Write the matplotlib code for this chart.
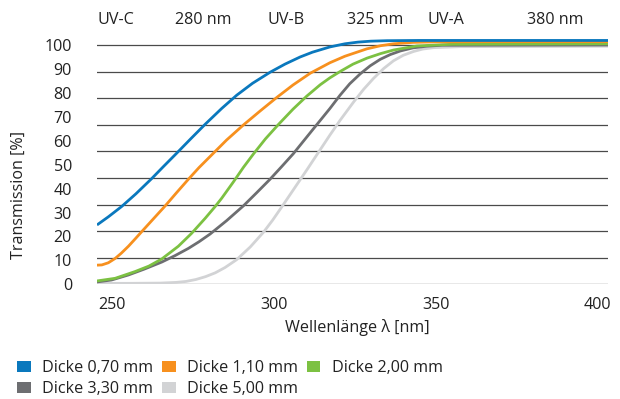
import matplotlib
matplotlib.use('Agg')
import matplotlib.pyplot as plt
from matplotlib.patches import Patch
from matplotlib.transforms import blended_transform_factory

plt.rcParams['font.family'] = ['Open Sans', 'DejaVu Sans']

wl_070 = [245.5, 249, 253.1, 257.5, 262.4, 266, 270.1, 274.5, 278.9, 284, 288.6, 293.5, 298.9,
          303.5, 308.2, 312, 317.4, 322, 326, 330, 335, 345, 360, 380, 403.2]
tr_070 = [24.8, 28.2, 32.5, 37.8, 44.2, 49.2, 54.8, 60.9, 66.9, 73.5, 79.0, 84.0, 88.6,
          92.0, 95.0, 97.0, 99.2, 100.5, 101.2, 101.6, 101.8, 101.9, 101.9, 101.9, 101.9]

wl_110 = [245.5, 247, 249, 251.1, 253, 255.2, 257.3, 259.3, 263, 266.5, 270, 273.7, 277, 280.4,
          285.5, 290.7, 296, 301, 306, 311.3, 317.4, 322, 328.8, 333, 337, 343, 349.4, 365, 403.2]
tr_110 = [8.0, 8.1, 9.0, 10.8, 13.0, 15.9, 19.0, 22.0, 27.5, 32.7, 38.2, 43.9, 48.8, 53.4,
          60.3, 66.6, 72.6, 78.1, 83.3, 88.2, 92.6, 95.3, 98.4, 99.7, 100.5, 101.1, 101.3, 101.4, 101.4]

wl_200 = [245.5, 251.1, 257.2, 261.5, 265.5, 270.6, 274.7, 278.9, 281.9, 284, 287.6, 290.7, 293.8,
          297.5, 301.5, 306, 310.2, 314.4, 317.4, 320.5, 324.5, 328.8, 333, 337, 344.2, 355, 403.2]
tr_200 = [1.4, 2.5, 5.3, 7.6, 10.6, 15.9, 21.3, 27.6, 32.4, 36.0, 42.8, 48.9, 54.5,
          60.8, 66.8, 73.2, 78.6, 83.4, 86.3, 88.9, 92.0, 94.5, 96.4, 97.9, 99.6, 100.3, 100.5]

wl_330 = [245.5, 250, 255.2, 260, 265.5, 269.6, 273.7, 277, 280.4, 285.5, 290.7, 294.8, 298.9,
          302.5, 306.1, 309.2, 312.3, 315, 317.4, 320.5, 323.5, 326.7, 329.8, 332.9, 336, 339.1,
          343, 347.3, 352, 403.2]
tr_330 = [1.0, 1.8, 3.9, 6.3, 9.3, 12.0, 15.0, 17.8, 21.0, 26.6, 32.8, 38.3, 43.9,
          49.2, 54.6, 59.8, 65.0, 69.5, 73.5, 79.0, 83.8, 87.9, 91.3, 94.0, 96.0, 97.5,
          98.8, 99.5, 99.9, 100.0]

wl_500 = [245.5, 255, 265, 270, 273, 276, 279, 282, 285, 288.6, 292.8, 296.9, 299.7, 302.5,
          305.3, 308.2, 310.5, 312.3, 315, 317.4, 320.5, 324.7, 327.8, 330.8, 334, 337, 340,
          343.2, 346, 349.4, 357.6, 403.2]
tr_500 = [0.4, 0.4, 0.5, 0.8, 1.2, 2.0, 3.2, 4.8, 7.0, 10.3, 15.6, 21.8, 26.8, 32.3,
          37.9, 43.7, 48.3, 52.0, 57.5, 62.4, 68.5, 76.2, 81.5, 86.0, 90.2, 93.4, 95.7,
          97.3, 98.3, 98.9, 99.3, 99.5]

labels = ['Dicke 0,70 mm', 'Dicke 1,10 mm', 'Dicke 2,00 mm', 'Dicke 3,30 mm', 'Dicke 5,00 mm']
colors = ['#0a78bd', '#f7901e', '#7cc142', '#6d6e71', '#d2d3d5']

x_ticks = [250, 300, 350, 400]
y_ticks = [0, 10, 20, 30, 40, 50, 60, 70, 80, 90, 100]

# UV-Bereiche oben
top_labels = ['UV-C', '280 nm', 'UV-B', '325 nm', 'UV-A', '380 nm']
top_label_x = [251.3, 278.4, 303.9, 331.3, 353.1, 386.9]

txt = '#222222'
fs = 11.6

fig = plt.figure(figsize=(6.2, 3.99), dpi=100)
ax = fig.add_axes([97 / 620, 1 - 284.3 / 399, 511 / 620, 104 * 2.393 / 399])

# Gitterlinien (9 Abschnitte)
for k in range(10):
    ax.axhline(k * 100 / 9, color='#4a4a4a', lw=0.9, zorder=1)

series = [(wl_070, tr_070), (wl_110, tr_110), (wl_200, tr_200), (wl_330, tr_330), (wl_500, tr_500)]
for (wl, tr), c in zip(series[::-1], colors[::-1]):
    ax.plot(wl, tr, color=c, lw=2.0, solid_capstyle='butt', solid_joinstyle='round', zorder=3)

ax.set_xlim(245.5, 403.2)
ax.set_ylim(0, 104)
for s in ax.spines.values():
    s.set_visible(False)
ax.set_xticks(x_ticks)
ax.set_yticks(y_ticks)
ax.tick_params(axis='both', length=0, labelsize=fs, colors=txt)
ax.tick_params(axis='y', pad=18)
ax.tick_params(axis='x', pad=9)

fig.text(357 / 620, 1 - 328 / 399, 'Wellenlänge λ [nm]', ha='center', va='center', fontsize=fs, color=txt)
fig.text(19 / 620, 1 - 195 / 399, 'Transmission [%]', ha='center', va='center', rotation=90,
         fontsize=fs, color=txt)

trans = blended_transform_factory(ax.transData, fig.transFigure)
for lab, xp in zip(top_labels, top_label_x):
    ax.text(xp, 1 - 20 / 399, lab, transform=trans, ha='center', va='center', fontsize=fs, color=txt)

# Legende: Reihenfolge so, dass zeilenweise gelesen wird
handles = [Patch(facecolor=c, edgecolor='none') for c in colors]
order = [0, 3, 1, 4, 2]
fig.legend([handles[i] for i in order], [labels[i] for i in order], ncol=3,
           loc='upper left', bbox_to_anchor=(17 / 620, 1 - 360 / 399), frameon=False,
           fontsize=fs, handlelength=0.85, handleheight=0.7, handletextpad=0.7,
           columnspacing=0.55, labelspacing=0.3, borderpad=0, borderaxespad=0,
           labelcolor=txt)

fig.savefig('out.png', dpi=100)
